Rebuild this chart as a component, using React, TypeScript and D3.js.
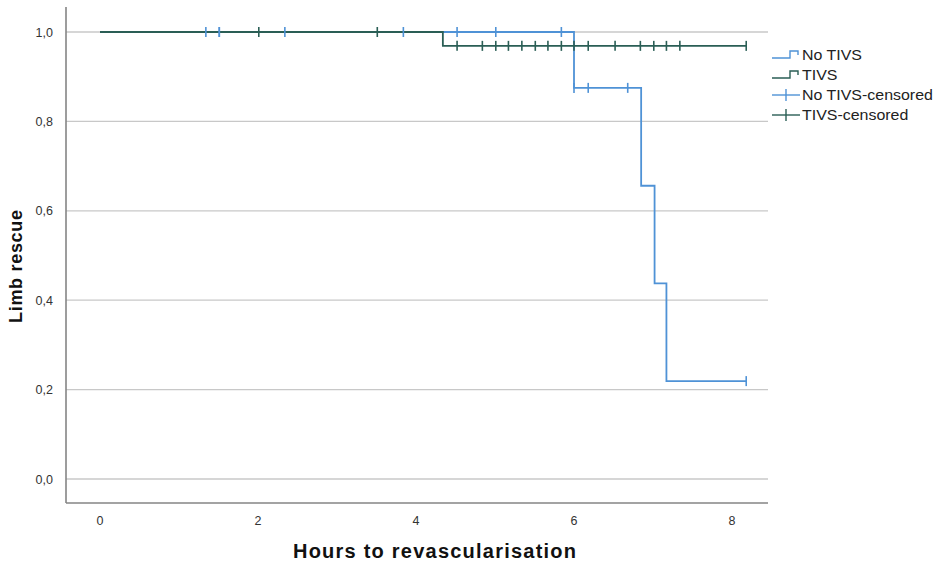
import React from "react";
import * as d3 from "d3";

// Kaplan-Meier steps
const noTivsTimes = [0, 6.0, 6.85, 7.02, 7.17, 8.18];
const noTivsSurv = [1, 0.875, 0.656, 0.4375, 0.219, 0.219];
const tivsTimes = [0, 4.34, 8.18];
const tivsSurv = [1, 0.969, 0.969];

// Censored observations
const noTivsCensorTimes = [1.34, 1.51, 1.51, 2.34, 3.84, 4.52, 5.01, 5.84, 6.0, 6.18, 6.68, 8.18];
const noTivsCensorSurv = [1, 1, 1, 1, 1, 1, 1, 1, 0.875, 0.875, 0.875, 0.219];
const tivsCensorTimes = [2.01, 3.51, 4.52, 4.84, 5.01, 5.17, 5.34, 5.51, 5.67, 5.84, 6.0, 6.18, 6.52, 6.84, 7.01, 7.17, 7.34, 8.18];
const tivsCensorSurv = [1, 1, 0.969, 0.969, 0.969, 0.969, 0.969, 0.969, 0.969, 0.969, 0.969, 0.969, 0.969, 0.969, 0.969, 0.969, 0.969, 0.969];

const xTicks = [0, 2, 4, 6, 8];
const yTicks = [0, 0.2, 0.4, 0.6, 0.8, 1.0];
const legendLabels = ["No TIVS", "TIVS", "No TIVS-censored", "TIVS-censored"];

const BLUE = "#4f92d6";
const DARK = "#2a5e55";
const FONT = "'Liberation Sans', Arial, sans-serif";

export default function App() {
  const x = d3.scaleLinear().domain([0, 8]).range([100, 732]);
  const y = d3.scaleLinear().domain([0, 1]).range([479, 32]);
  const line = d3
    .line<[number, number]>()
    .x((d) => x(d[0]))
    .y((d) => y(d[1]))
    .curve(d3.curveStepAfter);

  const noTivsPts = noTivsTimes.map((t, i) => [t, noTivsSurv[i]] as [number, number]);
  const tivsPts = tivsTimes.map((t, i) => [t, tivsSurv[i]] as [number, number]);
  const fmt = (v: number) => d3.format(".1f")(v).replace(".", ",");

  const legendColors = [BLUE, DARK, BLUE, DARK];

  return (
    <svg
      width={938}
      height={565}
      style={{ position: "absolute", left: 0, top: 0, background: "#fff" }}
      fontFamily={FONT}
    >
      <rect width={938} height={565} fill="#fff" />
      {/* gridlines */}
      {yTicks.map((t) => (
        <line key={t} x1={66} x2={768} y1={y(t)} y2={y(t)} stroke="#c8c8c8" strokeWidth={1.3} />
      ))}
      {/* axes */}
      <line x1={66} x2={66} y1={7} y2={503} stroke="#858585" strokeWidth={1.6} />
      <line x1={66} x2={768} y1={503} y2={503} stroke="#858585" strokeWidth={1.6} />
      {/* tick labels */}
      {yTicks.map((t) => (
        <text key={t} x={53} y={y(t) + 4.5} textAnchor="end" fontSize={12.5} fill="#333">
          {fmt(t)}
        </text>
      ))}
      {xTicks.map((t) => (
        <text key={t} x={x(t)} y={525} textAnchor="middle" fontSize={12.5} fill="#333">
          {t}
        </text>
      ))}
      {/* titles */}
      <text
        x={293}
        y={558}
        fontSize={20}
        fontWeight="bold"
        fill="#111"
        textLength={283}
        lengthAdjust="spacing"
      >
        Hours to revascularisation
      </text>
      <text
        transform="translate(22,323) rotate(-90)"
        x={0}
        y={0}
        fontSize={18}
        fontWeight="bold"
        fill="#111"
        textLength={113}
        lengthAdjust="spacing"
      >
        Limb rescue
      </text>
      {/* curves */}
      <path d={line(noTivsPts) || ""} fill="none" stroke={BLUE} strokeWidth={1.8} />
      <path d={line(tivsPts) || ""} fill="none" stroke={DARK} strokeWidth={1.8} />
      {/* censor marks */}
      {noTivsCensorTimes.map((t, i) => (
        <g key={"b" + i} stroke={BLUE} strokeWidth={1.6}>
          <line x1={x(t)} x2={x(t)} y1={y(noTivsCensorSurv[i]) - 5} y2={y(noTivsCensorSurv[i]) + 5} />
        </g>
      ))}
      {tivsCensorTimes.map((t, i) => (
        <g key={"d" + i} stroke={DARK} strokeWidth={1.6}>
          <line x1={x(t)} x2={x(t)} y1={y(tivsCensorSurv[i]) - 5} y2={y(tivsCensorSurv[i]) + 5} />
        </g>
      ))}
      {/* legend */}
      {legendLabels.map((lab, i) => {
        const cy = 55 + i * 20;
        const c = legendColors[i];
        return (
          <g key={lab}>
            {i < 2 ? (
              <path
                d={`M772,${cy + 3} H790 V${cy - 4} H798 V${cy}`}
                fill="none"
                stroke={c}
                strokeWidth={1.4}
              />
            ) : (
              <g stroke={c} strokeWidth={1.4}>
                <line x1={772} x2={800} y1={cy} y2={cy} />
                <line x1={786} x2={786} y1={cy - 6} y2={cy + 6} />
              </g>
            )}
            <text
              transform={`translate(802,${cy + 5}) scale(1.14,1)`}
              fontSize={14}
              fill="#222"
            >
              {lab}
            </text>
          </g>
        );
      })}
    </svg>
  );
}
